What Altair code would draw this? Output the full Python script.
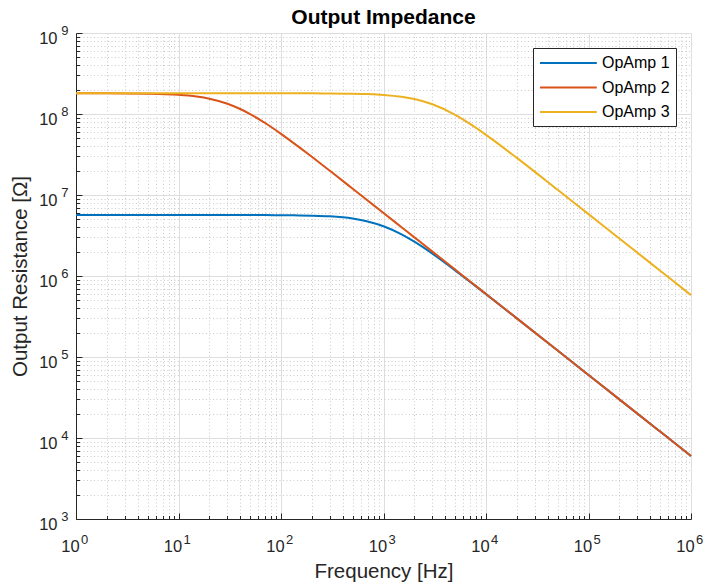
import altair as alt
import pandas as pd

# ---- data ----
freq = [1, 2, 5, 10, 15, 20, 30, 40, 50, 70,
        100, 150, 200, 300, 500, 700,
        1000, 1500, 2000, 3000, 5000, 7000,
        1e4, 2e4, 5e4,
        1e5, 2e5, 5e5, 1e6]

opamp1 = [5.66e6, 5.66e6, 5.66e6, 5.66e6, 5.66e6, 5.66e6, 5.66e6, 5.66e6, 5.65e6, 5.65e6,
          5.63e6, 5.60e6, 5.56e6, 5.45e6, 5.12e6, 4.72e6,
          4.12e6, 3.27e6, 2.65e6, 1.886e6, 1.174e6, 8.47e5,
          5.97e5, 3.00e5, 1.20e5,
          6.00e4, 3.00e4, 1.20e4, 6.00e3]

opamp2 = [1.80e8, 1.80e8, 1.78e8, 1.724e8, 1.64e8, 1.544e8, 1.338e8, 1.152e8, 9.98e7, 7.74e7,
          5.69e7, 3.90e7, 2.96e7, 1.988e7, 1.197e7, 8.56e6,
          6.00e6, 4.00e6, 3.00e6, 2.00e6, 1.20e6, 8.57e5,
          6.00e5, 3.00e5, 1.20e5,
          6.00e4, 3.00e4, 1.20e4, 6.00e3]

opamp3 = [1.80e8, 1.80e8, 1.80e8, 1.80e8, 1.80e8, 1.80e8, 1.80e8, 1.80e8, 1.80e8, 1.80e8,
          1.80e8, 1.80e8, 1.80e8, 1.79e8, 1.78e8, 1.76e8,
          1.72e8, 1.63e8, 1.53e8, 1.319e8, 9.77e7, 7.54e7,
          5.53e7, 2.87e7, 1.160e7,
          5.81e6, 2.91e6, 1.163e6, 5.81e5]

series_names = ["OpAmp 1", "OpAmp 2", "OpAmp 3"]
series_colors = ["#0072BD", "#D95319", "#EDB120"]

x_major = [1, 10, 100, 1e3, 1e4, 1e5, 1e6]
y_major = [1e3, 1e4, 1e5, 1e6, 1e7, 1e8, 1e9]
x_minor = [m * d for d in [1, 10, 100, 1e3, 1e4, 1e5] for m in range(2, 10)]
y_minor = [m * d for d in [1e3, 1e4, 1e5, 1e6, 1e7, 1e8] for m in range(2, 10)]

title_text = "Output Impedance"
x_title = "Frequency [Hz]"
y_title = "Output Resistance [Ω]"

rows = []
for name, vals in zip(series_names, [opamp1, opamp2, opamp3]):
    for f, v in zip(freq, vals):
        rows.append({"freq": f, "value": v, "series": name})
df = pd.DataFrame(rows)

FONT = "Liberation Sans"
INK = "#262626"
xs = alt.Scale(type="log", domain=[1, 1e6], nice=False)
ys = alt.Scale(type="log", domain=[1e3, 1e9], nice=False)

base = alt.Chart(df)


def guide(xaxis, yaxis):
    return base.mark_point(opacity=0).encode(
        x=alt.X("freq:Q", scale=xs, axis=xaxis),
        y=alt.Y("value:Q", scale=ys, axis=yaxis),
    )


common = dict(labelFlush=False, labelOverlap=False)
MINOR = "#cbcbcb"

# minor grid (dotted)
minor_grid = guide(
    alt.Axis(orient="bottom", values=x_minor, grid=True, gridDash=[1, 2.5], gridColor=MINOR,
             ticks=False, labels=False, domain=False, title=None),
    alt.Axis(orient="left", values=y_minor, grid=True, gridDash=[1, 2.5], gridColor=MINOR,
             ticks=False, labels=False, domain=False, title=None),
)
# major grid (solid)
major_grid = guide(
    alt.Axis(orient="bottom", values=x_major, grid=True, gridColor="#dedede",
             ticks=False, labels=False, domain=False, title=None),
    alt.Axis(orient="left", values=y_major, grid=True, gridColor="#dedede",
             ticks=False, labels=False, domain=False, title=None),
)
# minor ticks (inward)
minor_ticks = guide(
    alt.Axis(orient="bottom", values=x_minor, grid=False, ticks=True, tickSize=3.5, offset=-3.5,
             tickColor=INK, labels=False, domain=False, title=None),
    alt.Axis(orient="left", values=y_minor, grid=False, ticks=True, tickSize=3.5, offset=-3.5,
             tickColor=INK, labels=False, domain=False, title=None),
)
# major ticks (inward)
major_ticks = guide(
    alt.Axis(orient="bottom", values=x_major, grid=False, ticks=True, tickSize=6, offset=-6,
             tickColor=INK, labels=False, domain=False, title=None),
    alt.Axis(orient="left", values=y_major, grid=False, ticks=True, tickSize=6, offset=-6,
             tickColor=INK, labels=False, domain=False, title=None),
)
# base "10" labels, domain line and titles
base_labels = guide(
    alt.Axis(orient="bottom", values=x_major, grid=False, ticks=False, tickSize=0,
             domain=True, domainColor=INK, domainWidth=1,
             labelExpr="'10'", labelFont=FONT, labelFontSize=16.5, labelColor=INK,
             labelAlign="center", labelBaseline="alphabetic", labelPadding=32, labelOffset=-6,
             title=x_title, titleFont=FONT, titleFontSize=20.5, titleFontWeight="normal",
             titleColor=INK, titleBaseline="alphabetic", titleY=58, **common),
    alt.Axis(orient="left", values=y_major, grid=False, ticks=False, tickSize=0,
             domain=True, domainColor=INK, domainWidth=1,
             labelExpr="'10'", labelFont=FONT, labelFontSize=16.5, labelColor=INK,
             labelAlign="right", labelBaseline="alphabetic", labelPadding=19, labelOffset=10.5,
             title=y_title, titleFont=FONT, titleFontSize=20.5, titleFontWeight="normal",
             titleColor=INK, titleBaseline="alphabetic", titleAngle=270, titleX=-50, **common),
)
# exponent labels
exp_labels = guide(
    alt.Axis(orient="bottom", values=x_major, grid=False, ticks=False, tickSize=0, domain=False,
             labelExpr="'' + round(log(datum.value) / LN10)", labelFont=FONT, labelFontSize=13,
             labelColor=INK, labelAlign="left", labelBaseline="alphabetic", labelPadding=24.5,
             labelOffset=4.5, title=None, **common),
    alt.Axis(orient="left", values=y_major, grid=False, ticks=False, tickSize=0, domain=False,
             labelExpr="'' + round(log(datum.value) / LN10)", labelFont=FONT, labelFontSize=13,
             labelColor=INK, labelAlign="right", labelBaseline="alphabetic", labelPadding=8,
             labelOffset=1.5, title=None, **common),
)

lines = base.mark_line(strokeWidth=2, interpolate="monotone").encode(
    x=alt.X("freq:Q", scale=xs, axis=None),
    y=alt.Y("value:Q", scale=ys, axis=None),
    color=alt.Color(
        "series:N",
        scale=alt.Scale(domain=series_names, range=series_colors),
        legend=alt.Legend(
            title=None, orient="top-right", offset=15, padding=6,
            symbolType="M-1,0H6.1", symbolSize=256, symbolStrokeWidth=2,
            labelOffset=45, labelFont=FONT, labelFontSize=16, labelColor="black",
            rowPadding=7.5, strokeColor=INK, fillColor="white", labelLimit=300,
        ),
    ),
    order=alt.Order("freq:Q"),
)

chart = alt.layer(
    minor_grid, major_grid, minor_ticks, major_ticks, base_labels, exp_labels, lines
).resolve_axis(
    x="independent", y="independent"
).resolve_scale(
    x="shared", y="shared"
).properties(
    width=615, height=486,
    autosize=alt.AutoSizeParams(type="none"),
    padding={"left": 76, "top": 33, "right": 15, "bottom": 66},
    background="white",
    title=alt.TitleParams(title_text, font=FONT, fontSize=21, fontWeight="bold", color="black",
                          anchor="middle", offset=4, baseline="alphabetic", dy=24),
).configure_view(stroke="transparent")

chart.save("out.html", embed_options={"renderer": "svg", "actions": False})
